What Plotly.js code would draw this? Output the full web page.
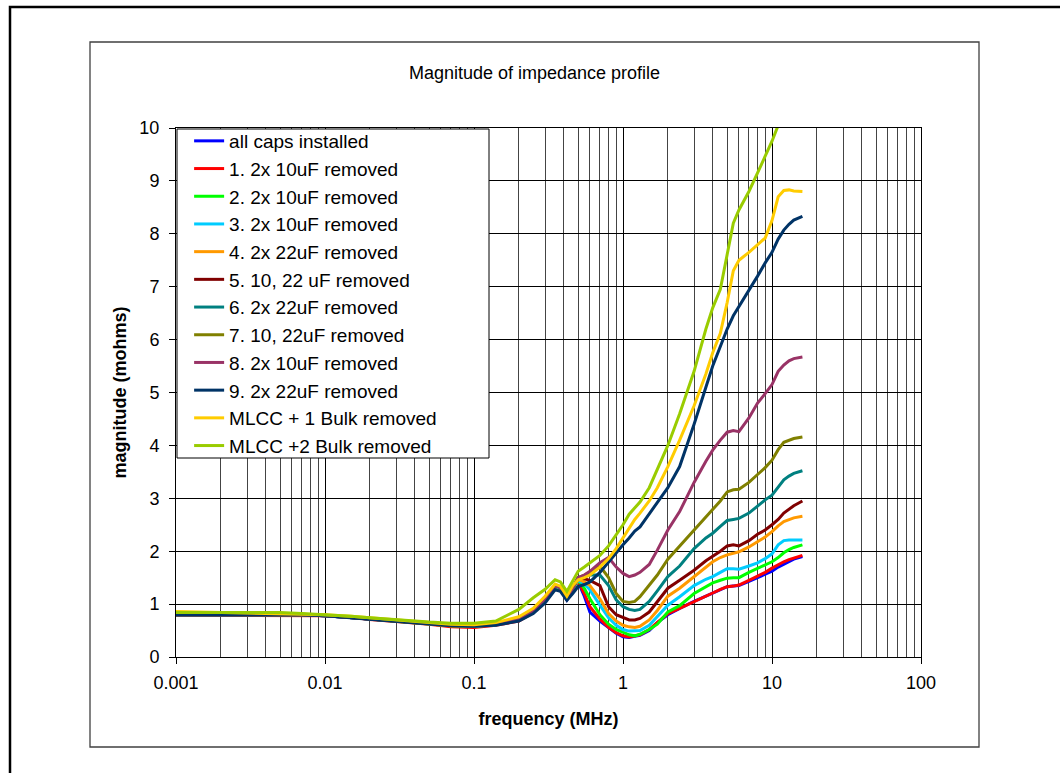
<!DOCTYPE html>
<html>
<head>
<meta charset="utf-8">
<script src="https://cdn.plot.ly/plotly-3.0.1.min.js"></script>
<style>html,body{margin:0;padding:0;background:#fff;}#chart{width:1060px;height:773px;}</style>
</head>
<body>
<div id="chart"></div>
<script>
// Frequency grid (MHz)
const freq = [0.001,0.0015,0.002,0.003,0.005,0.007,0.01,0.015,0.02,0.03,0.05,0.07,0.1,0.14,0.2,0.25,0.3,0.35,0.38,0.42,0.46,
  0.5,0.55,0.6,0.7,0.8,0.9,1.0,1.1,1.2,1.3,1.5,1.7,2.0,2.4,3.0,3.6,4.0,4.5,5.0,5.5,6.0,7.0,8.0,9.0,10,11,12,13,14,16];

const seriesNames = ["all caps installed","1. 2x 10uF removed","2. 2x 10uF removed","3. 2x 10uF removed","4. 2x 22uF removed",
  "5. 10, 22 uF removed","6. 2x 22uF removed","7. 10, 22uF removed","8. 2x 10uF removed","9. 2x 22uF removed",
  "MLCC + 1 Bulk removed","MLCC +2 Bulk removed"];

const allCaps = [0.80,0.80,0.80,0.80,0.81,0.80,0.78,0.75,0.72,0.68,0.63,0.60,0.58,0.61,0.70,0.85,1.08,1.32,1.28,1.08,1.25,
  1.42,1.15,0.85,0.68,0.55,0.45,0.38,0.37,0.39,0.41,0.50,0.65,0.80,0.92,1.05,1.15,1.21,1.28,1.33,1.34,1.35,1.43,1.50,1.55,1.62,1.70,1.76,1.80,1.85,1.90];
const rem1 = [0.79,0.79,0.79,0.79,0.79,0.79,0.78,0.75,0.71,0.67,0.62,0.57,0.56,0.60,0.68,0.84,1.07,1.33,1.28,1.09,1.26,
  1.43,1.20,0.95,0.72,0.56,0.46,0.40,0.38,0.40,0.42,0.52,0.65,0.82,0.92,1.04,1.15,1.21,1.28,1.33,1.34,1.36,1.45,1.53,1.60,1.68,1.75,1.80,1.84,1.87,1.92];
const rem2 = [0.80,0.80,0.80,0.81,0.81,0.80,0.79,0.75,0.72,0.68,0.63,0.59,0.58,0.61,0.70,0.86,1.09,1.34,1.29,1.10,1.28,
  1.45,1.30,1.10,0.80,0.62,0.52,0.46,0.42,0.40,0.43,0.52,0.62,0.85,0.97,1.20,1.33,1.40,1.45,1.49,1.50,1.50,1.60,1.67,1.73,1.80,1.88,1.97,2.03,2.07,2.12];
const rem3 = [0.80,0.80,0.79,0.80,0.80,0.80,0.78,0.75,0.72,0.68,0.63,0.60,0.58,0.61,0.71,0.86,1.09,1.34,1.30,1.10,1.28,
  1.45,1.38,1.27,0.98,0.74,0.60,0.52,0.49,0.49,0.50,0.60,0.76,0.98,1.14,1.35,1.47,1.52,1.60,1.67,1.67,1.66,1.72,1.78,1.86,1.95,2.12,2.20,2.21,2.21,2.21];
const rem4 = [0.82,0.81,0.81,0.81,0.81,0.80,0.79,0.75,0.72,0.67,0.62,0.59,0.59,0.62,0.72,0.88,1.10,1.35,1.31,1.11,1.30,
  1.47,1.42,1.35,1.10,0.82,0.68,0.60,0.57,0.56,0.58,0.70,0.88,1.15,1.30,1.52,1.70,1.80,1.88,1.93,1.96,1.99,2.08,2.18,2.27,2.37,2.48,2.56,2.60,2.63,2.66];
const rem5 = [0.80,0.80,0.80,0.80,0.81,0.80,0.78,0.75,0.72,0.68,0.63,0.60,0.59,0.62,0.72,0.87,1.10,1.36,1.31,1.12,1.30,
  1.50,1.48,1.45,1.35,0.95,0.80,0.74,0.70,0.70,0.73,0.85,1.05,1.30,1.45,1.64,1.82,1.90,2.00,2.10,2.12,2.10,2.20,2.32,2.40,2.50,2.60,2.72,2.80,2.86,2.95];
const rem6 = [0.80,0.80,0.80,0.80,0.81,0.80,0.78,0.75,0.72,0.68,0.63,0.60,0.59,0.62,0.71,0.87,1.10,1.35,1.31,1.11,1.30,
  1.50,1.52,1.55,1.55,1.35,1.08,0.95,0.90,0.88,0.90,1.05,1.25,1.52,1.72,2.05,2.25,2.34,2.47,2.58,2.60,2.62,2.72,2.86,2.97,3.06,3.20,3.35,3.42,3.47,3.52];
const rem7 = [0.81,0.81,0.81,0.81,0.82,0.81,0.79,0.76,0.73,0.69,0.64,0.61,0.60,0.63,0.73,0.88,1.11,1.36,1.32,1.12,1.31,
  1.50,1.55,1.60,1.72,1.50,1.20,1.05,1.03,1.05,1.14,1.35,1.55,1.85,2.10,2.40,2.65,2.78,2.95,3.12,3.16,3.17,3.30,3.45,3.58,3.72,3.92,4.06,4.10,4.13,4.16];
const rem8 = [0.80,0.80,0.80,0.80,0.81,0.80,0.78,0.75,0.72,0.68,0.63,0.60,0.59,0.62,0.72,0.87,1.10,1.35,1.31,1.11,1.30,
  1.50,1.55,1.62,1.78,1.88,1.70,1.58,1.52,1.55,1.60,1.75,2.02,2.40,2.75,3.30,3.70,3.91,4.10,4.25,4.28,4.26,4.52,4.80,4.98,5.15,5.40,5.52,5.60,5.64,5.67];
const rem9 = [0.80,0.80,0.80,0.80,0.80,0.80,0.78,0.74,0.71,0.67,0.62,0.59,0.58,0.60,0.68,0.82,1.02,1.27,1.24,1.07,1.20,
  1.33,1.37,1.42,1.60,1.80,1.98,2.12,2.25,2.38,2.46,2.70,2.92,3.20,3.60,4.40,5.10,5.50,5.87,6.20,6.45,6.62,6.94,7.20,7.45,7.65,7.90,8.07,8.18,8.26,8.33];
const mlcc1 = [0.86,0.85,0.84,0.84,0.83,0.82,0.80,0.77,0.74,0.70,0.65,0.62,0.61,0.65,0.76,0.92,1.15,1.38,1.34,1.15,1.35,
  1.46,1.50,1.55,1.70,1.86,2.05,2.25,2.45,2.60,2.72,2.95,3.20,3.60,4.10,4.75,5.35,5.75,6.12,6.70,7.30,7.50,7.65,7.80,7.92,8.25,8.70,8.82,8.83,8.81,8.80];
const mlcc2 = [0.84,0.84,0.83,0.83,0.84,0.82,0.80,0.77,0.74,0.70,0.66,0.64,0.64,0.68,0.90,1.12,1.28,1.46,1.42,1.24,1.45,
  1.62,1.70,1.78,1.92,2.10,2.30,2.50,2.70,2.82,2.93,3.20,3.55,4.00,4.60,5.40,6.20,6.60,6.95,7.60,8.20,8.45,8.80,9.15,9.45,9.75,10.05,10.30,null,null,null];

const seriesValues = [allCaps,rem1,rem2,rem3,rem4,rem5,rem6,rem7,rem8,rem9,mlcc1,mlcc2];
const seriesColors = ["#0000FF","#FF0000","#00FF00","#00CCFF","#FF9900","#800000","#008080","#808000","#993366","#003366","#FFCC00","#99CC00"];

const xTickVals = [0.001,0.01,0.1,1,10,100];
const xTickText = ["0.001","0.01","0.1","1","10","100"];

const FONT = '"Liberation Sans", Arial, sans-serif';

const traces = seriesNames.map((n,i)=>({
  type:'scatter', mode:'lines', name:n, x:freq, y:seriesValues[i],
  line:{color:seriesColors[i], width:3}, connectgaps:false
}));

// minor grid positions 2..9 per decade
const minorVals = [];
for (let e=-3;e<2;e++){ for (let m=2;m<10;m++){ minorVals.push(m*Math.pow(10,e)); } }

// plot area pixels: x 176..921, y 128..657
const L=176,R=921,T=128,B=657;
const px = v => (v-L)/(R-L);
const py = v => (B-v)/(B-T);

const layout = {
  width:1060, height:773,
  margin:{l:L, r:1060-R, t:T, b:773-B, pad:0},
  paper_bgcolor:'#ffffff', plot_bgcolor:'#ffffff',
  font:{family:FONT, color:'#000'},
  title:{text:'Magnitude of impedance profile', font:{size:18, family:FONT, color:'#000'},
    x:534.5/1060, xref:'container', xanchor:'center', y:1-73/773, yref:'container', yanchor:'middle'},
  xaxis:{type:'log', range:[-3,2], tickmode:'array', tickvals:xTickVals, ticktext:xTickText,
    ticks:'outside', ticklen:6, tickcolor:'#000', tickwidth:1, ticklabelstandoff:3,
    showline:true, linecolor:'#000', linewidth:1, mirror:true,
    showgrid:true, gridcolor:'#000', gridwidth:1, zeroline:false,
    tickfont:{size:18, family:FONT, color:'#000'},
    minor:{tickmode:'array', tickvals:minorVals, showgrid:true, gridcolor:'#444', gridwidth:1, ticks:''},
    title:{text:'<b>frequency (MHz)</b>', font:{size:18, family:FONT, color:'#000'}, standoff:20}},
  yaxis:{range:[0,10], tickmode:'linear', tick0:0, dtick:1,
    ticks:'outside', ticklen:6, tickcolor:'#000', tickwidth:1, ticklabelstandoff:6,
    showline:true, linecolor:'#000', linewidth:1, mirror:true,
    showgrid:true, gridcolor:'#000', gridwidth:1, zeroline:false,
    tickfont:{size:18, family:FONT, color:'#000'},
    title:{text:'<b>magnitude (mohms)</b>', font:{size:18, family:FONT, color:'#000'}, standoff:8}},
  legend:{x:0.0015, y:py(122), xanchor:'left', yanchor:'top', bgcolor:'rgba(0,0,0,0)', borderwidth:0,
    font:{size:19, family:FONT, color:'#000'}, tracegroupgap:0, indentation:12},
  showlegend:true,
  shapes:[
    {type:'rect', xref:'paper', yref:'paper', x0:px(10), x1:px(1075), y0:py(785), y1:py(7),
      line:{color:'#000', width:2.5}, fillcolor:'rgba(0,0,0,0)', layer:'below'},
    {type:'rect', xref:'paper', yref:'paper', x0:px(90), x1:px(979), y0:py(747), y1:py(42),
      line:{color:'#404040', width:1.3}, fillcolor:'rgba(0,0,0,0)', layer:'below'},
    {type:'rect', xref:'paper', yref:'paper', x0:px(177), x1:px(489), y0:py(458), y1:py(129),
      line:{color:'#000', width:1}, fillcolor:'#ffffff', layer:'above'}
  ]
};

Plotly.newPlot('chart', traces, layout, {displayModeBar:false, staticPlot:true});
</script>
</body>
</html>
